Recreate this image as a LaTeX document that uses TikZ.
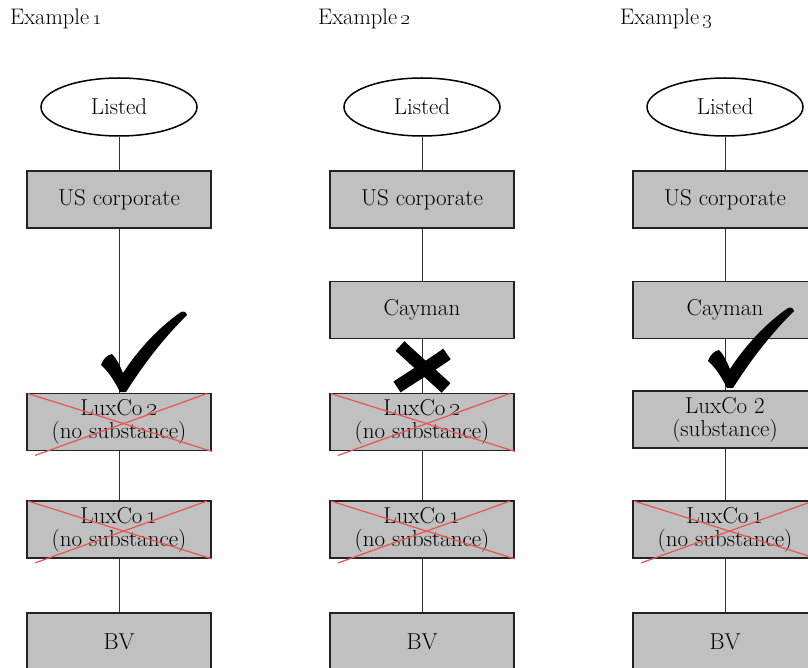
\documentclass[tikz,border=0pt]{standalone}
\usetikzlibrary{shapes.geometric,calc}
\definecolor{boxgray}{RGB}{192,192,192}
\definecolor{crossred}{RGB}{232,84,84}
\definecolor{edgegray}{RGB}{35,35,35}
\newcommand\strikebox[1]{%
  \draw[strike] ($(#1.north west)+(2,1)$) -- ($(#1.south east)+(0,0)$);
  \draw[strike] ($(#1.north east)+(-5,1)$) -- ($(#1.south west)+(9,4)$);}
\newcommand\tickat[1]{%
  \fill[tickfill,shift={#1}] (0,0) .. controls (-5,-10) and (-11,-20) .. (-19,-27)
    .. controls (-17,-33) and (-13,-37) .. (-8,-38)
    .. controls (-3,-33) and (0,-26) .. (3,-19)
    .. controls (18,-42) and (38,-64) .. (61,-80)
    .. controls (64,-81) and (66,-80) .. (67,-77)
    .. controls (40,-50) and (22,-25) .. (6,0) -- cycle;}
\begin{document}
\begin{tikzpicture}[x=1pt,y=-1pt,
  ent/.style={draw=edgegray, line width=1.8pt, fill=boxgray, minimum width=184pt,
    minimum height=57pt, inner sep=0pt, align=center, font=\fontsize{23}{23}\selectfont},
  listed/.style={ellipse, draw=black, line width=1.5pt, fill=white, minimum width=156pt,
    minimum height=58pt, inner sep=0pt, font=\fontsize{23}{23}\selectfont},
  link/.style={draw=black!80, line width=1pt},
  strike/.style={draw=crossred, line width=1.2pt},
  extitle/.style={anchor=base west, inner sep=0pt, font=\fontsize{22.5}{24}\selectfont},
  tickfill/.style={fill=black},
  crossstroke/.style={draw=black, line width=13pt}
]
\useasboundingbox (0,0) rectangle (808,668);
\clip (0,0) rectangle (808,668);

% titles
\node[extitle] (t1) at (10,25) {Example\,\oldstylenums{1}};
\node[extitle] (t2) at (318,25) {Example\,\oldstylenums{2}};
\node[extitle] (t3) at (620,25) {Example\,\oldstylenums{3}};

% Example 1
\node[listed] (L1) at (119,107) {Listed};
\node[ent] (U1) at (119,199.5) {US corporate};
\node[ent] (X1) at (119,422) {LuxCo\,\oldstylenums{2}\\(no substance)};
\node[ent] (Y1) at (119,529.5) {LuxCo\,\oldstylenums{1}\\(no substance)};
\node[ent] (B1) at (119,641.5) {BV};

% Example 2
\node[listed] (L2) at (422,107) {Listed};
\node[ent] (U2) at (422,199.5) {US corporate};
\node[ent] (C2) at (422,310) {Cayman};
\node[ent] (X2) at (422,422) {LuxCo\,\oldstylenums{2}\\(no substance)};
\node[ent] (Y2) at (422,529.5) {LuxCo\,\oldstylenums{1}\\(no substance)};
\node[ent] (B2) at (422,641.5) {BV};

% Example 3
\node[listed] (L3) at (725,107) {Listed};
\node[ent] (U3) at (725,199.5) {US corporate};
\node[ent] (C3) at (725,310) {Cayman};
\node[ent] (X3) at (725,419.5) {LuxCo 2\\(substance)};
\node[ent] (Y3) at (725,529.5) {LuxCo\,\oldstylenums{1}\\(no substance)};
\node[ent] (B3) at (725,641.5) {BV};

% connectors
\draw[link] (L1) -- (U1); \draw[link] (U1) -- (X1); \draw[link] (X1) -- (Y1); \draw[link] (Y1) -- (B1);
\draw[link] (L2) -- (U2); \draw[link] (U2) -- (C2); \draw[link] (C2) -- (X2); \draw[link] (X2) -- (Y2); \draw[link] (Y2) -- (B2);
\draw[link] (L3) -- (U3); \draw[link] (U3) -- (C3); \draw[link] (C3) -- (X3); \draw[link] (X3) -- (Y3); \draw[link] (Y3) -- (B3);

% red strikes
\strikebox{X1}\strikebox{Y1}
\strikebox{X2}\strikebox{Y2}
\strikebox{Y3}

% ticks
\tickat{(120,392)}
\tickat{(727,388)}

% cross
\draw[crossstroke] (400,346) .. controls (415,360) and (432,375) .. (446,388);
\draw[crossstroke] (447,354) .. controls (430,366) and (412,377) .. (397,387);
\end{tikzpicture}
\end{document}
